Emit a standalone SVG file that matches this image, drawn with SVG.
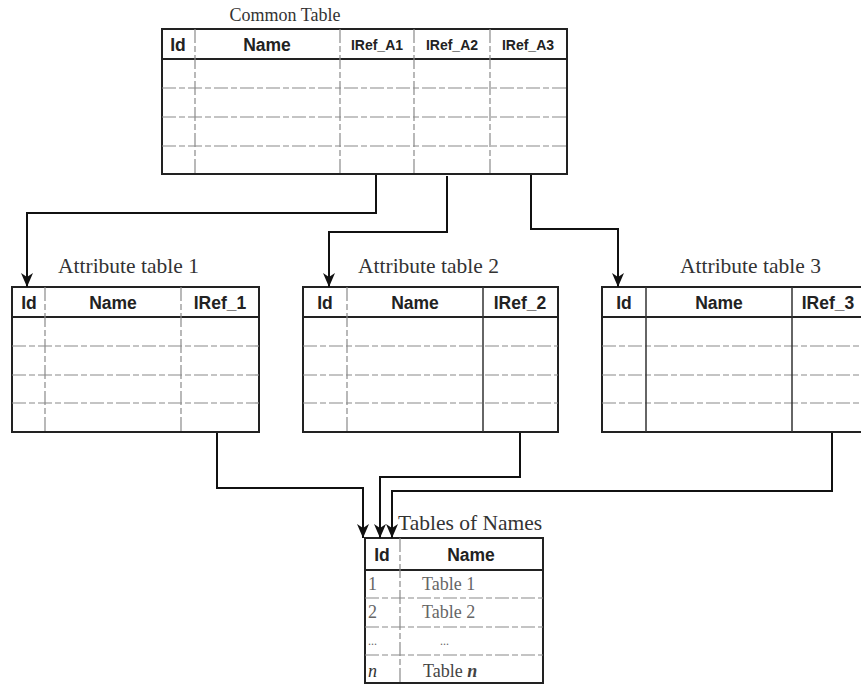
<svg xmlns="http://www.w3.org/2000/svg" width="861" height="684" viewBox="0 0 861 684">
<defs>
<style>
.title{font-family:"Liberation Serif","Times New Roman",serif;font-size:21.5px;fill:#333}
.hdr{font-family:"Liberation Sans",Arial,sans-serif;font-weight:bold;font-size:17.5px;fill:#222;text-anchor:middle}
.hs{font-size:14px}
.border{fill:#fff;stroke:#222;stroke-width:2}
.hline{stroke:#222;stroke-width:2}
.grid{stroke:#8a8a8a;stroke-width:1.2;stroke-dasharray:14 3 6 3}
.dark{stroke:#333;stroke-width:1.5}
.conn{fill:none;stroke:#111;stroke-width:2}
.cell{font-family:"Liberation Serif","Times New Roman",serif;font-size:18px;fill:#666}
</style>
<marker id="arr" viewBox="0 0 14 12" refX="14" refY="6" markerWidth="14" markerHeight="12" markerUnits="userSpaceOnUse" orient="auto">
<path d="M0,0 L14,6 L0,12 L4,6 z" fill="#111"/>
</marker>
</defs>

<g id="common-table">
<text class="title" x="285" y="21" text-anchor="middle" style="font-size:18px">Common Table</text>
<rect class="border" x="162" y="29" width="405" height="145"/>
<line class="hline" x1="162" y1="59" x2="567" y2="59"/>
<line class="grid" x1="162" y1="88" x2="567" y2="88"/>
<line class="grid" x1="162" y1="117" x2="567" y2="117"/>
<line class="grid" x1="162" y1="146" x2="567" y2="146"/>
<line class="grid" x1="195" y1="29" x2="195" y2="174"/>
<line class="grid" x1="340" y1="29" x2="340" y2="174"/>
<line class="grid" x1="414" y1="29" x2="414" y2="174"/>
<line class="grid" x1="490" y1="29" x2="490" y2="174"/>
<text class="hdr" x="178" y="51">Id</text>
<text class="hdr" x="267" y="51">Name</text>
<text class="hdr hs" x="377" y="50">IRef_A1</text>
<text class="hdr hs" x="452" y="50">IRef_A2</text>
<text class="hdr hs" x="528" y="50">IRef_A3</text>
</g>

<g id="attribute-table-1">
<text class="title" x="58" y="273">Attribute table 1</text>
<rect class="border" x="12" y="287" width="247" height="145"/>
<line class="hline" x1="12" y1="317" x2="259" y2="317"/>
<line class="grid" x1="12" y1="346" x2="259" y2="346"/>
<line class="grid" x1="12" y1="375" x2="259" y2="375"/>
<line class="grid" x1="12" y1="403" x2="259" y2="403"/>
<line class="grid" x1="45" y1="287" x2="45" y2="432"/>
<line class="grid" x1="181" y1="287" x2="181" y2="432"/>
<text class="hdr" x="29" y="309">Id</text>
<text class="hdr" x="113" y="309">Name</text>
<text class="hdr" x="220" y="309">IRef_1</text>
</g>

<g id="attribute-table-2">
<text class="title" x="358" y="273">Attribute table 2</text>
<rect class="border" x="303" y="287" width="255" height="145"/>
<line class="hline" x1="303" y1="317" x2="558" y2="317"/>
<line class="grid" x1="303" y1="346" x2="558" y2="346"/>
<line class="grid" x1="303" y1="375" x2="558" y2="375"/>
<line class="grid" x1="303" y1="403" x2="558" y2="403"/>
<line class="grid" x1="347" y1="287" x2="347" y2="432"/>
<line class="dark" x1="483" y1="287" x2="483" y2="432"/>
<text class="hdr" x="325" y="309">Id</text>
<text class="hdr" x="415" y="309">Name</text>
<text class="hdr" x="520" y="309">IRef_2</text>
</g>

<g id="attribute-table-3">
<text class="title" x="680" y="273">Attribute table 3</text>
<rect class="border" x="602" y="287" width="270" height="145"/>
<line class="hline" x1="602" y1="317" x2="872" y2="317"/>
<line class="grid" x1="602" y1="346" x2="872" y2="346"/>
<line class="grid" x1="602" y1="375" x2="872" y2="375"/>
<line class="grid" x1="602" y1="403" x2="872" y2="403"/>
<line class="dark" x1="646" y1="287" x2="646" y2="432"/>
<line class="dark" x1="792" y1="287" x2="792" y2="432"/>
<text class="hdr" x="624" y="309">Id</text>
<text class="hdr" x="719" y="309">Name</text>
<text class="hdr" x="828" y="309">IRef_3</text>
</g>

<g id="tables-of-names">
<text class="title" x="398" y="530">Tables of Names</text>
<rect class="border" x="365" y="538" width="178" height="145"/>
<line class="hline" x1="365" y1="570" x2="543" y2="570"/>
<line class="grid" x1="365" y1="598" x2="543" y2="598"/>
<line class="grid" x1="365" y1="627" x2="543" y2="627"/>
<line class="grid" x1="365" y1="655" x2="543" y2="655"/>
<line class="grid" x1="400" y1="538" x2="400" y2="683"/>
<text class="hdr" x="382" y="561">Id</text>
<text class="hdr" x="471" y="561">Name</text>
<text class="cell" x="368" y="590">1</text>
<text class="cell" x="422" y="590">Table 1</text>
<text class="cell" x="368" y="618">2</text>
<text class="cell" x="422" y="618">Table 2</text>
<text class="cell" x="368" y="645" style="font-size:12px">...</text>
<text class="cell" x="440" y="645" style="font-size:12px">...</text>
<text class="cell" x="368" y="677" style="font-style:italic;fill:#333">n</text>
<text class="cell" x="423" y="677" style="fill:#444">Table <tspan style="font-style:italic;font-weight:bold">n</tspan></text>
</g>

<g id="connectors">
<path class="conn" d="M376,175 V213 H27 V287" marker-end="url(#arr)"/>
<path class="conn" d="M447,176 V232 H329 V287" marker-end="url(#arr)"/>
<path class="conn" d="M531,175 V229 H618 V287" marker-end="url(#arr)"/>
<path class="conn" d="M217,433 V488 H363 V538" marker-end="url(#arr)"/>
<path class="conn" d="M520,433 V477 H380 V538" marker-end="url(#arr)"/>
<path class="conn" d="M832,433 V491 H392 V538" marker-end="url(#arr)"/>
</g>
</svg>
